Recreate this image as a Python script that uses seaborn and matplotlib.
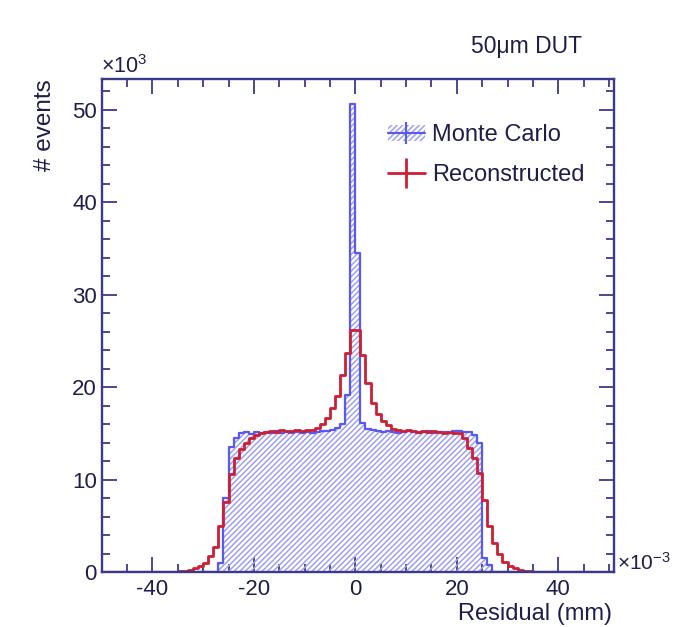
import numpy as np
import matplotlib
matplotlib.use("Agg")
import matplotlib.pyplot as plt
import seaborn as sns
from matplotlib.patches import Patch
from matplotlib.lines import Line2D
from matplotlib.ticker import MultipleLocator

# ---------------- data (residual in 1e-3 mm, counts in 1e3 events) -------------
bin_edges = list(range(-50, 52))
bin_centers = [e + 0.5 for e in bin_edges[:-1]]

mc_counts = (
    [0.0] * 23 +
    [1.0, 8.0, 13.5, 14.5, 15.0, 15.1, 14.9, 15.1, 15.0, 15.1,      # -27 .. -18
     15.0, 15.2, 15.0, 15.1, 15.0, 15.1, 15.0, 15.1, 15.0, 15.1,     # -17 .. -8
     15.2, 15.2, 15.4, 15.6, 16.0, 19.1, 50.6, 34.5, 16.1, 15.5,     # -7 .. 2
     15.3, 15.2, 15.1, 15.2, 15.1, 15.0, 15.1, 15.2, 15.1, 15.0,     # 3 .. 12
     15.1, 15.2, 15.0, 15.1, 15.1, 15.0, 15.2, 15.2, 15.1, 15.1,     # 13 .. 22
     14.8, 14.0, 1.5, 0.8] +                                         # 23 .. 26
    [0.0] * 24
)

reco_counts = (
    [0.0] * 14 +
    [0.05, 0.1, 0.15, 0.25, 0.4, 0.6, 1.0, 1.7, 2.7, 5.0,           # -36 .. -27
     7.6, 10.6, 12.3, 13.3, 14.0, 14.5, 14.8, 15.0, 15.1, 15.2,      # -26 .. -17
     15.1, 15.3, 15.2, 15.2, 15.3, 15.2, 15.4, 15.3, 15.6, 16.0,     # -16 .. -7
     16.6, 17.7, 19.0, 21.3, 23.7, 26.2, 26.2, 23.5, 20.4, 18.3,     # -6 .. 3
     17.1, 16.3, 15.9, 15.5, 15.3, 15.2, 15.3, 15.2, 15.1, 15.2,     # 4 .. 13
     15.1, 15.2, 15.1, 15.0, 15.1, 15.0, 15.0, 14.5, 13.4, 12.3,     # 14 .. 23
     10.7, 7.8, 5.0, 3.1, 2.0, 1.1, 0.6, 0.4, 0.25, 0.15,            # 24 .. 33
     0.1, 0.05] +                                                    # 34 .. 35
    [0.0] * 15
)

labels = ["Monte Carlo", "Reconstructed"]

# ---------------- style ---------------------------------------------------------
sns.set_style("ticks")
plt.rcParams["font.family"] = ["Liberation Sans", "DejaVu Sans"]
plt.rcParams["mathtext.fontset"] = "custom"
plt.rcParams["mathtext.rm"] = "Liberation Sans"
plt.rcParams["mathtext.it"] = "Liberation Sans:italic"
plt.rcParams["mathtext.bf"] = "Liberation Sans:bold"
plt.rcParams["axes.unicode_minus"] = False
plt.rcParams["hatch.linewidth"] = 1.1

text_c = "#1e1e4a"
spine_c = "#3a3a8c"
blue = "#5858f2"
hatch_c = "#a0a0f2"
red = "#cc1f33"

fig = plt.figure(figsize=(6.79, 6.27), dpi=100)
ax = fig.add_axes([0.1498, 0.0877, 0.7545, 0.7863])

# Monte Carlo: hatched fill + blue outline
sns.histplot(x=bin_centers, weights=mc_counts, bins=bin_edges, element="step",
             fill=True, color=hatch_c, facecolor="none", edgecolor=hatch_c,
             linewidth=0, hatch="//////", alpha=1, ax=ax)
sns.histplot(x=bin_centers, weights=mc_counts, bins=bin_edges, element="step",
             fill=False, color=blue, linewidth=1.6, ax=ax)
# Reconstructed: red step line
sns.histplot(x=bin_centers, weights=reco_counts, bins=bin_edges, element="step",
             fill=False, color=red, linewidth=2.0, ax=ax)

ax.set_xlim(-50, 51)
ax.set_ylim(0, 53.3)
ax.xaxis.set_major_locator(MultipleLocator(20))
ax.xaxis.set_minor_locator(MultipleLocator(5))
ax.yaxis.set_major_locator(MultipleLocator(10))
ax.yaxis.set_minor_locator(MultipleLocator(2))

for s in ax.spines.values():
    s.set_visible(True)
    s.set_color(spine_c)
    s.set_linewidth(1.7)

ax.tick_params(which="both", direction="in", top=True, right=True,
               color=spine_c, width=1.3, labelcolor=text_c, labelsize=16)
ax.tick_params(which="major", length=11)
ax.tick_params(which="minor", length=5.5)
ax.tick_params(axis="x", pad=5)
ax.tick_params(axis="y", pad=3.5)

ax.set_ylabel("# events", loc="top", fontsize=17.5, color=text_c)
ax.yaxis.set_label_coords(-0.089, 1.0)
ax.set_xlabel("Residual (mm)", loc="right", fontsize=17, color=text_c)
ax.xaxis.set_label_coords(0.996, -0.063)

fig.text(101 / 679, 1 - 78 / 627, r"$\times10^{3}$", ha="left", va="bottom",
         fontsize=15.5, color=text_c)
fig.text(617 / 679, 1 - 570 / 627, r"$\times10^{-3}$", ha="left", va="baseline",
         fontsize=15, color=text_c)
fig.text(471 / 679, 1 - 53 / 627, "50\u03bcm DUT", ha="left", va="baseline",
         fontsize=16.5, color=text_c)

mc_handle = (Patch(facecolor="none", edgecolor=hatch_c, hatch="//////", linewidth=0),
             Line2D([], [], color=blue, linewidth=1.5, marker="|",
                    markersize=16, markeredgewidth=1.5))
reco_handle = Line2D([], [], color=red, linewidth=2.0, marker="|",
                     markersize=22, markeredgewidth=2.0)
leg = ax.legend([mc_handle, reco_handle], labels, loc="upper left",
                bbox_to_anchor=(0.559, 0.908), frameon=False, fontsize=17,
                handlelength=1.55, handleheight=0.7, handletextpad=0.3,
                labelspacing=0.75, borderpad=0, borderaxespad=0)
for t in leg.get_texts():
    t.set_color(text_c)

fig.savefig("out.png", dpi=100)
